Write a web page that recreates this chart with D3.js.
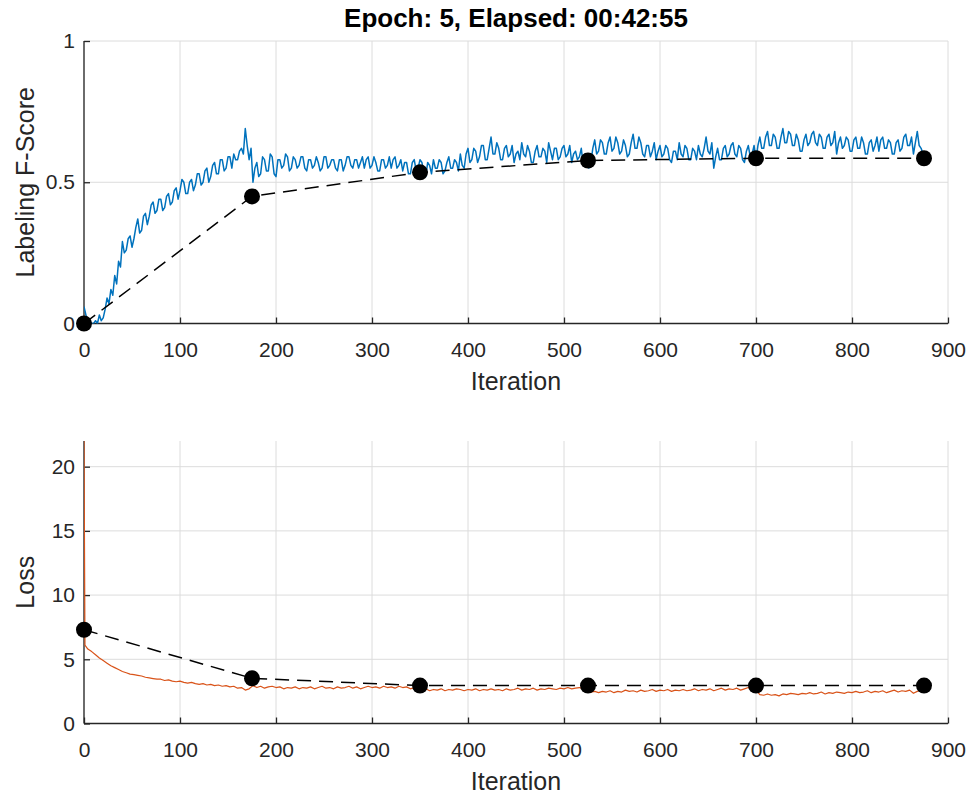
<!DOCTYPE html>
<html><head><meta charset="utf-8">
<script src="https://cdn.jsdelivr.net/npm/d3@7/dist/d3.min.js"></script>
<style>body{margin:0;background:#fff}svg{display:block}</style>
</head><body><svg id="c" width="972" height="793"></svg>
<script>
// ---------------- DATA ----------------
const titleText = "Epoch: 5, Elapsed: 00:42:55";
const xLabel = "Iteration";
const fLabel = "Labeling F-Score";
const lossLabel = "Loss";
const xTicks = [0,100,200,300,400,500,600,700,800,900];
const fTicks = [0,0.5,1];
const fTickLabels = ["0","0.5","1"];
const lossTicks = [0,5,10,15,20];
const lossTickLabels = ["0","5","10","15","20"];
const fStep = 2;    // iterations between stored F-score samples
const lossStep = 4; // iterations between stored loss samples

// training F-score, iterations 0,2,4,...,876
const trainF = [
0.06,0.03,0.00,0.01,0.00,0.00,0.01,0.00,0.03,0.01,
0.02,0.05,0.09,0.07,0.12,0.10,0.17,0.14,0.22,0.20,
0.29,0.25,0.26,0.30,0.31,0.27,0.30,0.34,0.37,0.32,
0.33,0.38,0.39,0.35,0.38,0.42,0.43,0.39,0.40,0.44,
0.44,0.40,0.41,0.45,0.46,0.42,0.43,0.47,0.48,0.44,
0.47,0.51,0.50,0.46,0.46,0.50,0.51,0.47,0.49,0.53,
0.53,0.49,0.50,0.54,0.55,0.50,0.52,0.56,0.57,0.53,
0.53,0.58,0.58,0.54,0.55,0.59,0.59,0.55,0.60,0.58,
0.58,0.61,0.62,0.60,0.69,0.63,0.58,0.62,0.50,0.55,
0.57,0.52,0.53,0.59,0.58,0.54,0.54,0.60,0.59,0.53,
0.52,0.58,0.58,0.55,0.56,0.60,0.59,0.54,0.55,0.59,
0.58,0.55,0.56,0.59,0.59,0.55,0.54,0.58,0.58,0.55,
0.56,0.59,0.57,0.54,0.55,0.59,0.59,0.55,0.56,0.58,
0.58,0.55,0.54,0.58,0.58,0.54,0.56,0.59,0.59,0.56,
0.55,0.58,0.58,0.55,0.57,0.59,0.55,0.58,0.59,0.55,
0.56,0.59,0.57,0.54,0.54,0.58,0.58,0.55,0.56,0.59,
0.55,0.58,0.59,0.55,0.56,0.58,0.54,0.57,0.57,0.53,
0.53,0.57,0.58,0.54,0.55,0.58,0.57,0.53,0.52,0.57,
0.56,0.53,0.58,0.55,0.55,0.58,0.57,0.53,0.54,0.57,
0.59,0.55,0.55,0.58,0.57,0.54,0.60,0.56,0.55,0.60,
0.62,0.57,0.58,0.62,0.61,0.57,0.59,0.63,0.63,0.58,
0.58,0.62,0.66,0.60,0.60,0.64,0.62,0.58,0.58,0.62,
0.63,0.59,0.60,0.63,0.57,0.60,0.61,0.58,0.64,0.60,
0.59,0.63,0.61,0.57,0.57,0.61,0.63,0.59,0.59,0.62,
0.61,0.57,0.64,0.61,0.58,0.62,0.62,0.58,0.59,0.62,
0.63,0.59,0.60,0.63,0.57,0.60,0.61,0.58,0.59,0.62,
0.56,0.60,0.58,0.55,0.57,0.62,0.65,0.60,0.61,0.65,
0.64,0.60,0.60,0.64,0.66,0.61,0.62,0.66,0.64,0.60,
0.61,0.65,0.63,0.59,0.60,0.64,0.67,0.62,0.62,0.66,
0.64,0.60,0.59,0.63,0.63,0.59,0.61,0.64,0.58,0.61,
0.63,0.59,0.60,0.63,0.62,0.58,0.57,0.61,0.61,0.58,
0.64,0.60,0.59,0.63,0.62,0.58,0.58,0.62,0.61,0.58,
0.63,0.60,0.59,0.62,0.66,0.61,0.60,0.64,0.55,0.59,
0.62,0.58,0.58,0.62,0.63,0.59,0.60,0.63,0.64,0.60,
0.59,0.63,0.62,0.58,0.57,0.61,0.63,0.59,0.60,0.63,
0.58,0.63,0.66,0.62,0.62,0.66,0.68,0.63,0.63,0.67,
0.66,0.62,0.62,0.66,0.69,0.64,0.64,0.68,0.67,0.63,
0.63,0.67,0.65,0.61,0.61,0.65,0.67,0.63,0.64,0.67,
0.68,0.64,0.63,0.67,0.66,0.62,0.62,0.66,0.67,0.63,
0.64,0.68,0.60,0.64,0.66,0.62,0.63,0.66,0.65,0.61,
0.61,0.65,0.66,0.62,0.62,0.66,0.64,0.60,0.60,0.64,
0.65,0.61,0.63,0.66,0.61,0.65,0.66,0.62,0.62,0.65,
0.64,0.60,0.60,0.64,0.65,0.61,0.62,0.66,0.67,0.63,
0.63,0.66,0.60,0.64,0.68,0.63,0.62,0.60,0.58
];

// training loss: first two samples at iterations 0 and 1, then iterations 4,8,...,876
const trainLossHeadIter = [0,1];
const trainLossHead = [22.0,6.1];
const trainLoss = [
5.8,5.6,5.35,5.1,4.9,4.7,4.5,4.35,4.2,4.05,3.95,3.85,3.8,3.75,3.7,3.6,3.55,3.5,3.45,3.45,
3.35,3.4,3.3,3.25,3.3,3.2,3.15,3.2,3.1,3.05,3.1,3.0,3.05,2.95,3.0,2.9,2.95,2.85,2.9,2.75,
2.8,2.6,2.7,2.95,2.8,2.9,2.75,2.85,2.9,2.8,2.85,2.7,2.8,2.75,2.85,2.7,2.8,2.75,2.85,2.7,
2.8,2.9,2.75,2.8,2.7,2.85,2.75,2.8,2.9,2.75,2.85,2.7,2.8,2.9,2.8,2.85,2.75,2.9,2.8,2.85,
2.75,2.9,2.8,2.85,2.7,2.8,2.75,2.6,2.7,2.55,2.65,2.6,2.7,2.55,2.65,2.6,2.7,2.65,2.55,2.65,
2.6,2.7,2.55,2.65,2.6,2.7,2.6,2.65,2.55,2.7,2.6,2.65,2.75,2.6,2.7,2.65,2.75,2.6,2.7,2.65,
2.75,2.7,2.65,2.75,2.7,2.8,2.7,2.75,2.8,2.7,2.75,2.45,2.5,2.4,2.5,2.45,2.55,2.4,2.5,2.45,
2.6,2.5,2.55,2.45,2.6,2.5,2.55,2.65,2.5,2.6,2.55,2.65,2.5,2.6,2.55,2.65,2.55,2.6,2.7,2.55,
2.65,2.6,2.7,2.55,2.65,2.75,2.6,2.7,2.65,2.75,2.6,2.7,2.8,2.85,2.6,2.25,2.2,2.3,2.2,2.25,
2.15,2.3,2.25,2.35,2.3,2.25,2.35,2.3,2.4,2.3,2.35,2.45,2.3,2.4,2.35,2.45,2.4,2.35,2.45,2.4,
2.5,2.4,2.45,2.55,2.4,2.5,2.45,2.55,2.4,2.5,2.6,2.45,2.55,2.5,2.6,2.35,2.5,2.7,2.8
];

// validation (end of each epoch)
const valIter = [0,175,350,525,700,875];
const valF = [0.0,0.45,0.535,0.577,0.585,0.585];
const valLoss = [7.3,3.52,2.95,2.95,2.95,2.95];

// ---------------- DRAWING ----------------
const svg = d3.select("#c");
const FONT = "'Liberation Sans', Arial, Helvetica, sans-serif";
const TXT = "#262626";
const left = 84, right = 948;

const trainFPts = trainF.map((v,i)=>({x:i*fStep, y:v}));
const trainLossPts = trainLossHead.map((v,i)=>({x:trainLossHeadIter[i], y:v}))
  .concat(trainLoss.map((v,i)=>({x:(i+1)*lossStep, y:v})));
const valFPts = valF.map((v,i)=>({x:valIter[i], y:v}));
const valLossPts = valLoss.map((v,i)=>({x:valIter[i], y:v}));

svg.append("text").attr("x",(left+right)/2).attr("y",27)
  .attr("text-anchor","middle").attr("font-family",FONT).attr("font-weight","bold")
  .attr("font-size",26).attr("fill","#000").text(titleText);

function panel(id, top, bottom, yDomain, yTicks, yTickLabels, yLab, train, val, color, lw){
  const x = d3.scaleLinear().domain([0,900]).range([left,right]);
  const y = d3.scaleLinear().domain(yDomain).range([bottom,top]);
  const g = svg.append("g");
  g.append("clipPath").attr("id","clip"+id).append("rect")
    .attr("x",left).attr("y",top).attr("width",right-left).attr("height",bottom-top);
  // grid
  g.append("g").selectAll("line").data(xTicks).join("line")
    .attr("x1",d=>x(d)).attr("x2",d=>x(d)).attr("y1",top).attr("y2",bottom)
    .attr("stroke","#dcdcdc").attr("stroke-width",1);
  g.append("g").selectAll("line").data(yTicks).join("line")
    .attr("x1",left).attr("x2",right).attr("y1",d=>y(d)).attr("y2",d=>y(d))
    .attr("stroke","#dcdcdc").attr("stroke-width",1);
  // axes
  const ax = g.append("g").attr("transform",`translate(0,${bottom})`)
    .call(d3.axisBottom(x).tickValues(xTicks).tickSize(-6).tickPadding(19).tickFormat(d3.format("d")));
  const ay = g.append("g").attr("transform",`translate(${left},0)`)
    .call(d3.axisLeft(y).tickValues(yTicks).tickSize(-6).tickPadding(9).tickFormat((d,i)=>yTickLabels[i]));
  [ax,ay].forEach(a=>{
    a.select(".domain").attr("stroke",TXT).attr("stroke-width",1.3);
    a.selectAll(".tick line").attr("stroke",TXT).attr("stroke-width",1.3);
    a.selectAll(".tick text").attr("fill",TXT).attr("font-size",21).attr("font-family",FONT);
  });
  ax.select(".domain").attr("d",`M${left},0H${right}`);
  ay.select(".domain").attr("d",`M0,${bottom}V${top}`);
  // labels
  g.append("text").attr("x",(left+right)/2).attr("y",bottom+66)
    .attr("text-anchor","middle").attr("font-family",FONT).attr("font-size",25)
    .attr("fill",TXT).text(xLabel);
  g.append("text").attr("transform",`translate(34,${(top+bottom)/2}) rotate(-90)`)
    .attr("text-anchor","middle").attr("font-family",FONT).attr("font-size",25)
    .attr("fill",TXT).text(yLab);
  // series
  const line = d3.line().x(d=>x(d.x)).y(d=>y(d.y));
  g.append("path").datum(train).attr("d",line).attr("fill","none")
    .attr("stroke",color).attr("stroke-width",lw).attr("stroke-linejoin","round")
    .attr("clip-path",`url(#clip${id})`);
  g.append("path").datum(val).attr("d",line).attr("fill","none")
    .attr("stroke","#000").attr("stroke-width",1.5).attr("stroke-dasharray","14,8");
  g.selectAll("circle.v").data(val).join("circle").attr("class","v")
    .attr("cx",d=>x(d.x)).attr("cy",d=>y(d.y)).attr("r",8).attr("fill","#000");
}

panel("a", 41, 323.5, [0,1], fTicks, fTickLabels, fLabel, trainFPts, valFPts, "#0072BD", 1.5);
panel("b", 441, 723.5, [0,22], lossTicks, lossTickLabels, lossLabel, trainLossPts, valLossPts, "#D95319", 1.2);
</script>
</body></html>
